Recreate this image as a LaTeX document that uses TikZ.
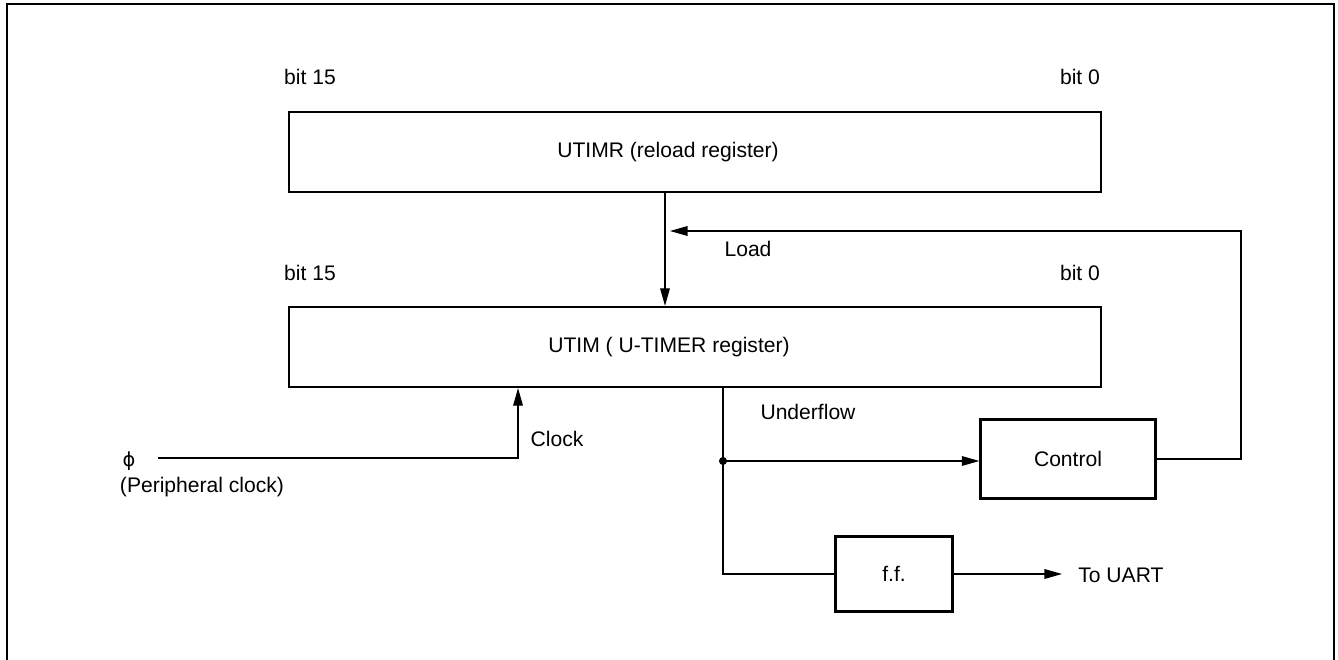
\documentclass[tikz,border=0pt]{standalone}
\usepackage{fontspec}
\setmainfont{Liberation Sans}
\newfontfamily\symfont{DejaVu Sans}
\usetikzlibrary{arrows.meta}

\begin{document}
\begin{tikzpicture}[
  x=0.02cm, y=-0.02cm,
  every node/.style={font=\fontsize{12pt}{14pt}\selectfont},
  reg/.style={
    draw, line width=1.3pt, inner sep=0pt,
    minimum width=16.24cm, minimum height=1.6cm
  },
  blk/.style={draw, line width=1.3pt, inner sep=0pt},
  sig/.style={line width=0.7pt, -{Triangle[length=10pt,width=5.5pt]}},
  wire/.style={line width=0.7pt}
]
  \useasboundingbox (0,0) rectangle (1338,659);
  \draw[line width=1.5pt] (7,665) -- (7,4) -- (1334,4) -- (1334,665);
  \foreach \y/\n in {77/a,273/b} {
    \node (bhi\n) at (310,\y) {bit 15};
    \node (blo\n) at (1080,\y) {bit 0};
  }
  \node[reg] (utimr) at (695,152) {};
  \node (utimrtxt) at (668,152) {UTIMR (reload register)};
  \node[reg] (utim) at (695,347) {};
  \node (utimtxt) at (669,347) {UTIM ( U-TIMER register)};
  \node[blk, minimum width=3.5cm, minimum height=1.58cm] (ctrl) at (1068,459) {Control};
  \node[blk, minimum width=2.34cm, minimum height=1.5cm] (ff) at (894,574) {f.f.};
  \node (phi) at (129,461) {\symfont\fontsize{11pt}{13pt}\selectfont ϕ};
  \node (pclk) at (202,487) {(Peripheral clock)};
  \node (clk) at (557,439) {Clock};
  \node (load) at (748,249) {Load};
  \node (uflow) at (808,412) {Underflow};
  \node[anchor=west, inner sep=0pt] (uart) at (1078,575) {To UART};
  \coordinate (clkin) at (158,458);
  \coordinate (junc) at (723,461);
  \coordinate (fbk) at (1241,231);
  \coordinate (ldtip) at (670,231);
  \coordinate (uarttip) at (1062,575);
  \draw[sig] ([xshift=-6mm]utimr.south) -- ([xshift=-6mm]utim.north);
  \draw[sig] (clkin) -| ([xshift=-3.54cm]utim.south);
  \draw[wire] ([xshift=5.6mm]utim.south) |- (ff.west);
  \fill (junc) circle (2.3pt);
  \draw[sig] (junc) -- (junc -| ctrl.west);
  \draw[sig] (ctrl.east) -| (fbk) -- (ldtip);
  \draw[sig] (ff.east) -- (ff.east -| uarttip);
\end{tikzpicture}
\end{document}
